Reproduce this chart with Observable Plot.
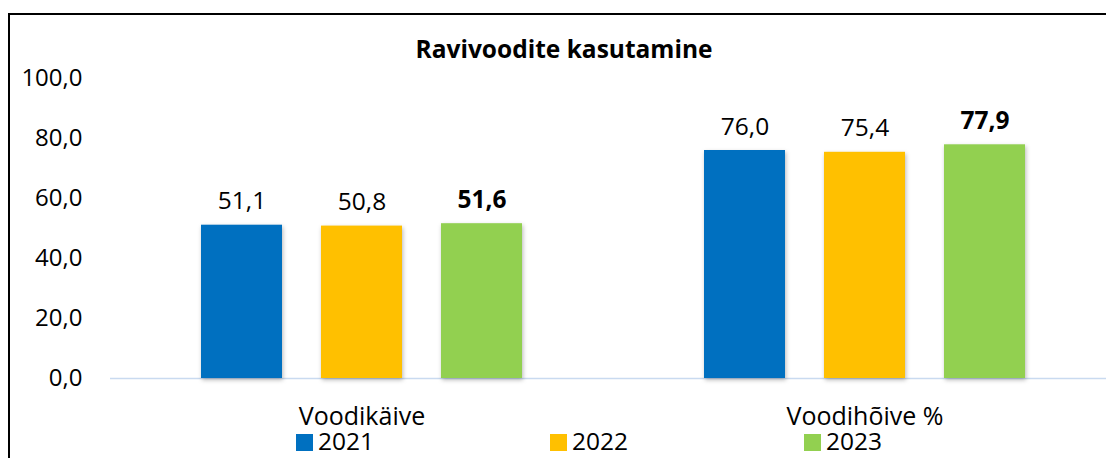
<!DOCTYPE html>
<html>
<head>
<meta charset="utf-8">
<script src="https://cdn.jsdelivr.net/npm/d3@7"></script>
<script src="https://cdn.jsdelivr.net/npm/@observablehq/plot@0.6"></script>
<style>
  html, body { margin: 0; padding: 0; background: #fff; overflow: hidden; }
  #wrap { position: relative; width: 1106px; height: 458px; overflow: hidden; font-family: "Open Sans", sans-serif; color: #000; }
  #frame { position: absolute; left: 8px; top: 13px; width: 1200px; height: 600px; border: 2px solid #000; box-sizing: border-box; }
  #title { position: absolute; left: 0; top: 36px; width: 1128px; text-align: center; font-weight: bold; font-size: 24.5px; line-height: 26px; }
  #chart { position: absolute; left: 0; top: 65px; }
  #legend { position: absolute; left: 296px; top: 430px; display: flex; font-size: 24.5px; line-height: 22px; }
  .item { width: 254px; display: flex; align-items: center; }
  .sw { width: 17px; height: 17px; margin-right: 5px; margin-top: 3px; }
  g[aria-label="bar"] rect { filter: drop-shadow(1px 2px 2px rgba(0,0,0,0.28)); }
</style>
</head>
<body>
<div id="wrap">
  <div id="frame"></div>
  <div id="title"></div>
  <div id="chart"></div>
  <div id="legend"></div>
</div>
<script>
const title = "Ravivoodite kasutamine";
const categories = ["Voodikäive", "Voodihõive %"];
const years = ["2021", "2022", "2023"];
const values2021 = [51.1, 76.0];
const values2022 = [50.8, 75.4];
const values2023 = [51.6, 77.9];
const yTicks = [0, 20, 40, 60, 80, 100];
const colors = ["#0070C0", "#FFC000", "#92D050"];

const series = [values2021, values2022, values2023];
const data = categories.flatMap((c, i) => years.map((y, j) => ({category: c, year: y, value: series[j][i]})));
const fmt = v => d3.format(".1f")(v).replace(".", ",");

document.getElementById("title").textContent = title;

const chart = Plot.plot({
  width: 1116,
  height: 368,
  marginLeft: 110,
  marginRight: 0,
  marginTop: 13,
  marginBottom: 55,
  style: "max-width:none;font-family:'Open Sans',sans-serif;font-size:24px;color:#000;background:transparent;overflow:visible;",
  fx: {domain: categories, padding: 0, label: null},
  x: {domain: years, paddingInner: 0.325, paddingOuter: 0.758, axis: null},
  y: {domain: [0, 100], label: null},
  color: {domain: years, range: colors},
  marks: [
    Plot.axisY({ticks: yTicks, tickFormat: fmt, tickSize: 0, tickPadding: 28, fontSize: 24, label: null}),
    Plot.axisFx({anchor: "bottom", tickSize: 0, tickPadding: 29, fontSize: 25, label: null}),
    Plot.ruleY([0], {stroke: "#c9daf0", strokeWidth: 1.5}),
    Plot.barY(data, {fx: "category", x: "year", y: "value", fill: "year"}),
    Plot.text(data.filter(d => d.year !== "2023"), {fx: "category", x: "year", y: "value", text: d => fmt(d.value), lineAnchor: "bottom", dy: -16, fontSize: 24.5, fill: "#000"}),
    Plot.text(data.filter(d => d.year === "2023"), {fx: "category", x: "year", y: "value", text: d => fmt(d.value), lineAnchor: "bottom", dy: -16, fontSize: 24.5, fontWeight: "bold", fill: "#000"})
  ]
});
document.getElementById("chart").appendChild(chart);

const legend = document.getElementById("legend");
years.forEach((y, i) => {
  const item = document.createElement("div");
  item.className = "item";
  const sw = document.createElement("span");
  sw.className = "sw";
  sw.style.background = colors[i];
  const t = document.createElement("span");
  t.textContent = y;
  item.appendChild(sw);
  item.appendChild(t);
  legend.appendChild(item);
});
</script>
</body>
</html>
